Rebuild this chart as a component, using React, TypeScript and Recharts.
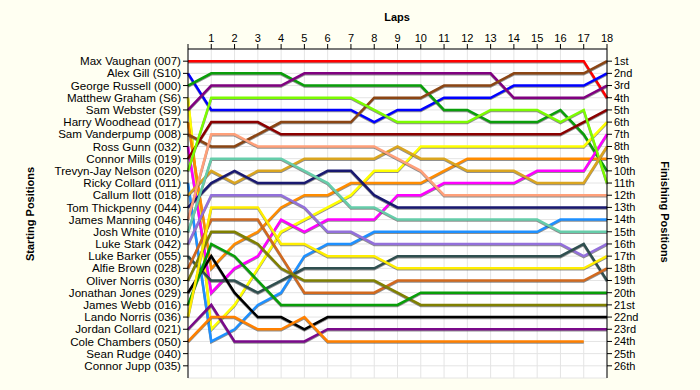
import React from 'react';
import { LineChart, Line, XAxis, YAxis, CartesianGrid } from 'recharts';

const laps = [0, 1, 2, 3, 4, 5, 6, 7, 8, 9, 10, 11, 12, 13, 14, 15, 16, 17, 18];

const startingGrid = [
    'Max Vaughan (007)', 'Alex Gill (S10)', 'George Russell (000)', 'Matthew Graham (S6)',
    'Sam Webster (S9)', 'Harry Woodhead (017)', 'Sam Vanderpump (008)', 'Ross Gunn (032)',
    'Connor Mills (019)', 'Trevyn-Jay Nelson (020)', 'Ricky Collard (011)', 'Callum Ilott (018)',
    'Tom Thickpenny (044)', 'James Manning (046)', 'Josh White (010)', 'Luke Stark (042)',
    'Luke Barker (055)', 'Alfie Brown (028)', 'Oliver Norris (030)', 'Jonathan Jones (029)',
    'James Webb (016)', 'Lando Norris (036)', 'Jordan Collard (021)', 'Cole Chambers (050)',
    'Sean Rudge (040)', 'Connor Jupp (035)',
];

const finishLabels = [
    '1st', '2nd', '3rd', '4th', '5th', '6th', '7th', '8th', '9th', '10th', '11th', '12th', '13th',
    '14th', '15th', '16th', '17th', '18th', '19th', '20th', '21st', '22nd', '23rd', '24th', '25th', '26th',
];

const positionTicks = [1, 2, 3, 4, 5, 6, 7, 8, 9, 10, 11, 12, 13, 14, 15, 16, 17, 18, 19, 20, 21, 22, 23, 24, 25, 26];

// running order per lap (lap 0 = grid)
const maxVaughan = [1, 1, 1, 1, 1, 1, 1, 1, 1, 1, 1, 1, 1, 1, 1, 1, 1, 1, 4];
const alexGill = [2, 5, 5, 5, 5, 5, 5, 5, 6, 5, 5, 4, 4, 4, 3, 3, 3, 3, 2];
const georgeRussell = [3, 2, 2, 2, 2, 3, 3, 3, 3, 3, 3, 5, 5, 6, 6, 6, 5, 7, 10];
const matthewGraham = [4, 23, 21, 18, 15, 14, 13, 12, 10, 10, 8, 8, 8, 8, 8, 8, 8, 8, 6];
const samWebster = [5, 3, 3, 3, 3, 2, 2, 2, 2, 2, 2, 2, 2, 2, 4, 4, 4, 4, 3];
const harryWoodhead = [6, 18, 16, 15, 13, 12, 12, 11, 11, 11, 11, 10, 9, 9, 9, 9, 9, 9, 9];
const samVanderpump = [7, 8, 8, 7, 6, 6, 6, 6, 4, 4, 4, 3, 3, 3, 2, 2, 2, 2, 1];
const rossGunn = [8, 20, 18, 17, 14, 15, 14, 14, 14, 12, 12, 11, 11, 11, 11, 10, 10, 10, 7];
const connorMills = [9, 6, 6, 6, 7, 7, 7, 7, 7, 7, 7, 7, 7, 7, 7, 7, 7, 6, 5];
const trevynJayNelson = [10, 4, 4, 4, 4, 4, 4, 4, 5, 6, 6, 6, 6, 5, 5, 5, 6, 5, 11];
const rickyCollard = [11, 24, 23, 21, 20, 17, 16, 16, 15, 15, 15, 15, 15, 15, 15, 15, 14, 14, 14];
const callumIlott = [12, 10, 11, 10, 10, 9, 9, 9, 9, 8, 9, 9, 10, 10, 10, 11, 11, 11, 8];
const tomThickpenny = [13, 11, 10, 11, 11, 11, 10, 10, 12, 13, 13, 13, 13, 13, 13, 13, 13, 13, 13];
const jamesManning = [14, 7, 7, 8, 8, 8, 8, 8, 8, 9, 10, 12, 12, 12, 12, 12, 12, 12, 12];
const joshWhite = [15, 9, 9, 9, 9, 10, 11, 13, 13, 14, 14, 14, 14, 14, 14, 14, 15, 15, 15];
const lukeStark = [16, 12, 12, 12, 12, 13, 15, 15, 16, 16, 16, 16, 16, 16, 16, 16, 16, 17, 16];
const lukeBarker = [17, 19, 19, 20, 19, 18, 18, 18, 18, 17, 17, 17, 17, 17, 17, 17, 17, 16, 19];
const alfieBrown = [18, 14, 14, 14, 17, 20, 20, 20, 20, 19, 19, 19, 19, 19, 19, 19, 19, 19, 18];
const oliverNorris = [19, 15, 15, 16, 18, 19, 19, 19, 19, 20, 21, 21, 21, 21, 21, 21, 21, 21, 21];
const jonathanJones = [20, 17, 20, 22, 22, 23, 22, 22, 22, 22, 22, 22, 22, 22, 22, 22, 22, 22, 22];
const jamesWebb = [21, 16, 17, 19, 21, 21, 21, 21, 21, 21, 20, 20, 20, 20, 20, 20, 20, 20, 20];
const landoNorris = [22, 13, 13, 13, 16, 16, 17, 17, 17, 18, 18, 18, 18, 18, 18, 18, 18, 18, 17];
const jordanCollard = [23, 21, 24, 24, 24, 24, 23, 23, 23, 23, 23, 23, 23, 23, 23, 23, 23, 23, 23];
const coleChambers = [24, 22, 22, 23, 23, 22, 24, 24, 24, 24, 24, 24, 24, 24, 24, 24, 24, 24, null];

const runners = [
    maxVaughan, alexGill, georgeRussell, matthewGraham, samWebster, harryWoodhead,
    samVanderpump, rossGunn, connorMills, trevynJayNelson, rickyCollard, callumIlott,
    tomThickpenny, jamesManning, joshWhite, lukeStark, lukeBarker, alfieBrown,
    oliverNorris, jonathanJones, jamesWebb, landoNorris, jordanCollard, coleChambers,
];

const lineColors = [
    '#ff0000', '#0000ff', '#0a9e0a', '#ffff00', '#800080', '#ff8c00',
    '#8b4513', '#ff00ff', '#8b0000', '#7cfc00', '#1e90ff', '#daa520',
    '#191970', '#ffa07a', '#66cdaa', '#9370db', '#2f4f4f', '#d2691e',
    '#808000', '#000000', '#089e08', '#ffee00', '#7a0a8a', '#ff8000',
];

const chartData = laps.map((lap, i) => {
    const row: Record<string, number | null> = { lap };
    runners.forEach((r, d) => {
        row['d' + d] = r[i];
    });
    return row;
});

const tickFont = { fill: '#000', fontSize: 11 };
const nameFont = { fill: '#000', fontSize: 11.6 };

const App = () => {
    return (
        <div
            className="lapchart"
            style={{
                position: 'absolute', left: 0, top: 0, width: 700, height: 390,
                background: '#fffff2', fontFamily: '"Liberation Sans", Arial, sans-serif',
            }}
        >
            <style>{`.lapchart .runner .recharts-line-curve { filter: drop-shadow(0px 1.5px 0px rgba(70,70,70,0.6)); }`}</style>
            <div style={{ position: 'absolute', left: 0, width: 794, top: 11, textAlign: 'center', fontSize: 11, fontWeight: 'bold' }}>
                Laps
            </div>
            <div
                style={{
                    position: 'absolute', left: 30, top: 214, fontSize: 11, fontWeight: 'bold', whiteSpace: 'nowrap',
                    transform: 'translate(-50%, -50%) rotate(-90deg)',
                }}
            >
                Starting Positions
            </div>
            <div
                style={{
                    position: 'absolute', left: 665, top: 212, fontSize: 11, fontWeight: 'bold', whiteSpace: 'nowrap',
                    transform: 'translate(-50%, -50%) rotate(90deg)',
                }}
            >
                Finishing Positions
            </div>
            <LineChart width={700} height={390} data={chartData} margin={{ top: 0, right: 0, left: 0, bottom: 12 }}>
                <CartesianGrid stroke="#e4e4e4" fill="#ffffff" yAxisId="left" />
                <XAxis
                    dataKey="lap"
                    type="number"
                    orientation="top"
                    domain={[0, 18]}
                    ticks={laps}
                    interval={0}
                    height={49}
                    tickSize={5}
                    stroke="#000"
                    tick={tickFont}
                    tickFormatter={(v: number) => (v === 0 ? '' : String(v))}
                />
                <YAxis
                    yAxisId="left"
                    type="number"
                    domain={[0, 27]}
                    reversed
                    ticks={positionTicks}
                    interval={0}
                    width={188}
                    tickSize={5}
                    stroke="#000"
                    tick={nameFont}
                    tickFormatter={(v: number) => startingGrid[v - 1]}
                />
                <YAxis
                    yAxisId="right"
                    orientation="right"
                    type="number"
                    domain={[0, 27]}
                    reversed
                    ticks={positionTicks}
                    interval={0}
                    width={93}
                    tickSize={5}
                    stroke="#000"
                    tick={tickFont}
                    tickFormatter={(v: number) => finishLabels[v - 1]}
                />
                {runners.map((_, d) => (
                    <Line
                        key={d}
                        className="runner"
                        yAxisId="left"
                        type="linear"
                        dataKey={'d' + d}
                        stroke={lineColors[d]}
                        strokeWidth={2.5}
                        dot={false}
                        activeDot={false}
                        isAnimationActive={false}
                    />
                ))}
                <Line
                    yAxisId="right"
                    dataKey="d0"
                    stroke="none"
                    strokeOpacity={0}
                    dot={false}
                    activeDot={false}
                    legendType="none"
                    isAnimationActive={false}
                />
            </LineChart>
        </div>
    );
};

export default App;
